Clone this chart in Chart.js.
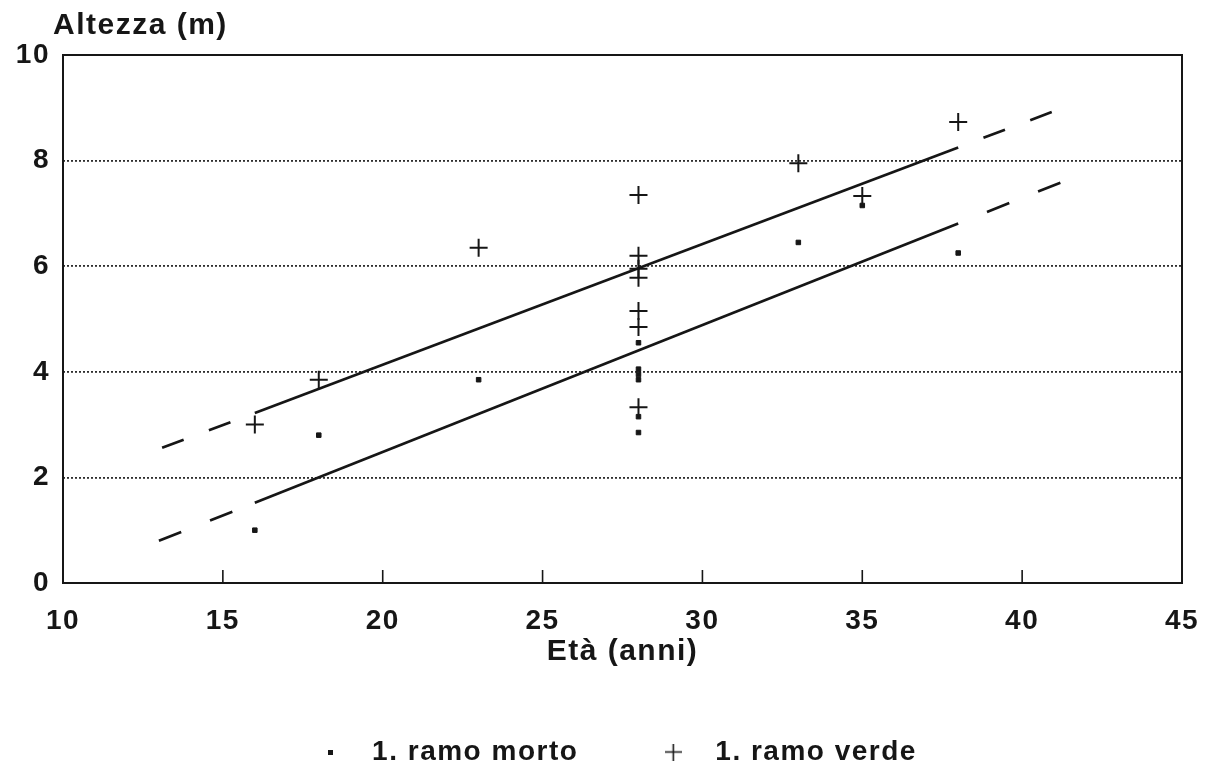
<!DOCTYPE html>
<html><head><meta charset="utf-8">
<script src="https://cdn.jsdelivr.net/npm/chart.js@4.4.1/dist/chart.umd.min.js"></script>
<style>html,body{margin:0;padding:0;background:#fff;} canvas{display:block;}</style>
</head><body>
<canvas id="c" width="1211" height="765"></canvas>
<script>
// ---- data ----
const xTicks = [10, 15, 20, 25, 30, 35, 40, 45];
const yTicks = [0, 2, 4, 6, 8, 10];
const seriesNames = ['1. ramo morto', '1. ramo verde'];
const mortoAge    = [16, 18, 23, 28, 28, 28, 28, 28, 28, 33, 35, 38];
const mortoHeight = [1.0, 2.8, 3.85, 4.55, 4.05, 3.95, 3.85, 3.15, 2.85, 6.45, 7.15, 6.25];
const verdeAge    = [16, 18, 23, 28, 28, 28, 28, 28, 28, 28, 33, 35, 38];
const verdeHeight = [3.0, 3.85, 6.35, 7.35, 6.2, 5.95, 5.78, 5.15, 4.85, 3.33, 7.95, 7.33, 8.73];
// regression lines: dashed extension, solid part 16-38, dashed extension
const verdeFitX = [13.1, 16, 38, 41.1];
const verdeFitY = [2.56, 3.22, 8.25, 8.96];
const mortoFitX = [13.0, 16, 38, 41.6];
const mortoFitY = [0.80, 1.52, 6.81, 7.68];

const ink = '#161616';
const F = "'Liberation Sans', Arial, Helvetica, sans-serif";
const pts = (xs, ys) => xs.map((x, i) => ({x: x, y: ys[i]}));

function legendMarker(kind) {
  const cv = document.createElement('canvas');
  if (kind === 'rect') {
    cv.width = 5; cv.height = 5;
    const c = cv.getContext('2d'); c.fillStyle = ink; c.fillRect(0, 0, 5, 5);
  } else {
    cv.width = 17; cv.height = 17;
    const c = cv.getContext('2d'); c.strokeStyle = ink; c.lineWidth = 1.6;
    c.beginPath(); c.moveTo(0, 8.5); c.lineTo(17, 8.5); c.moveTo(8.5, 0); c.lineTo(8.5, 17); c.stroke();
  }
  return cv;
}
const markers = [legendMarker('rect'), legendMarker('cross')];

const spacing = {
  id: 'spacing',
  beforeUpdate(c) { c.ctx.letterSpacing = '1.5px'; },
  beforeDraw(c) { c.ctx.letterSpacing = '1.5px'; }
};
const place = {
  id: 'place',
  afterLayout(c) {
    if (c.titleBlock) c.titleBlock.left = 53;
    if (c.legend) c.legend.left = 37;
  }
};
const frame = {
  id: 'frame',
  afterDatasetsDraw(c) {
    const {ctx, chartArea: a, scales: {x}} = c;
    ctx.save();
    ctx.setLineDash([]);
    ctx.strokeStyle = ink;
    ctx.lineWidth = 2;
    ctx.strokeRect(a.left, a.top, a.right - a.left, a.bottom - a.top);
    ctx.lineWidth = 1.6;
    x.ticks.forEach(t => {
      if (t.value <= x.min || t.value >= x.max) return;
      const px = x.getPixelForValue(t.value);
      ctx.beginPath(); ctx.moveTo(px, a.bottom); ctx.lineTo(px, a.bottom - 13); ctx.stroke();
    });
    ctx.restore();
  }
};

const dash = (pattern, endOffset) => ({
  borderDash: s => s.p0DataIndex === 1 ? [] : pattern,
  borderDashOffset: s => s.p0DataIndex === 2 ? endOffset : 0
});

new Chart(document.getElementById('c'), {
  type: 'scatter',
  data: {
    datasets: [
      {label: seriesNames[0], data: pts(mortoAge, mortoHeight), pointStyle: 'rect', pointRadius: 3.2,
       backgroundColor: ink, borderColor: ink, borderWidth: 1, showLine: false, order: 1},
      {label: seriesNames[1], data: pts(verdeAge, verdeHeight), pointStyle: 'cross', pointRadius: 9,
       backgroundColor: ink, borderColor: ink, borderWidth: 2, showLine: false, order: 1},
      {label: 'fit verde', type: 'line', data: pts(verdeFitX, verdeFitY), borderColor: ink, borderWidth: 2.7,
       pointRadius: 0, fill: false, tension: 0, segment: dash([23, 27], 23), order: 2},
      {label: 'fit morto', type: 'line', data: pts(mortoFitX, mortoFitY), borderColor: ink, borderWidth: 2.7,
       pointRadius: 0, fill: false, tension: 0, segment: dash([24, 31], 24), order: 2}
    ]
  },
  options: {
    responsive: false,
    animation: false,
    events: [],
    layout: {padding: {left: 10, right: 29, top: 0, bottom: 0}},
    plugins: {
      title: {display: true, text: 'Altezza (m)', align: 'start', color: ink,
              font: {family: F, size: 30, weight: 'bold'}, padding: {top: 8, bottom: 11}},
      legend: {
        position: 'bottom', maxHeight: 94,
        labels: {
          usePointStyle: true, pointStyleWidth: 56, padding: 67, color: ink,
          font: {family: F, size: 28, weight: 'bold'},
          generateLabels: chart => chart.data.datasets.slice(0, 2).map((d, i) => ({
            text: d.label, datasetIndex: i, pointStyle: markers[i], fontColor: ink,
            fillStyle: ink, strokeStyle: ink, lineWidth: 0, hidden: false
          }))
        }
      },
      tooltip: {enabled: false}
    },
    scales: {
      x: {
        type: 'linear', min: xTicks[0], max: xTicks[xTicks.length - 1],
        afterBuildTicks: s => { s.ticks = xTicks.map(v => ({value: v})); },
        ticks: {padding: 21, color: ink, font: {family: F, size: 28, weight: 'bold'}},
        grid: {display: false, drawTicks: false},
        border: {display: false},
        title: {display: true, text: 'Età (anni)', color: ink, font: {family: F, size: 30, weight: 'bold'},
                padding: {top: 0, bottom: 1}},
        afterFit: s => { s.height = 88; s.paddingLeft = 0; s.paddingRight = 0; }
      },
      y: {
        min: yTicks[0], max: yTicks[yTicks.length - 1],
        afterBuildTicks: s => { s.ticks = yTicks.map(v => ({value: v})); },
        ticks: {padding: 13, color: ink, font: {family: F, size: 28, weight: 'bold'}},
        grid: {
          drawTicks: false, lineWidth: 1.8,
          color: c => (c.tick && (c.tick.value === yTicks[0] || c.tick.value === yTicks[yTicks.length - 1])) ? 'rgba(0,0,0,0)' : '#2e2e2e'
        },
        border: {display: false, dash: [2, 2]},
        afterFit: s => { s.width = 53; }
      }
    }
  },
  plugins: [spacing, place, frame]
});
</script>
</body></html>
